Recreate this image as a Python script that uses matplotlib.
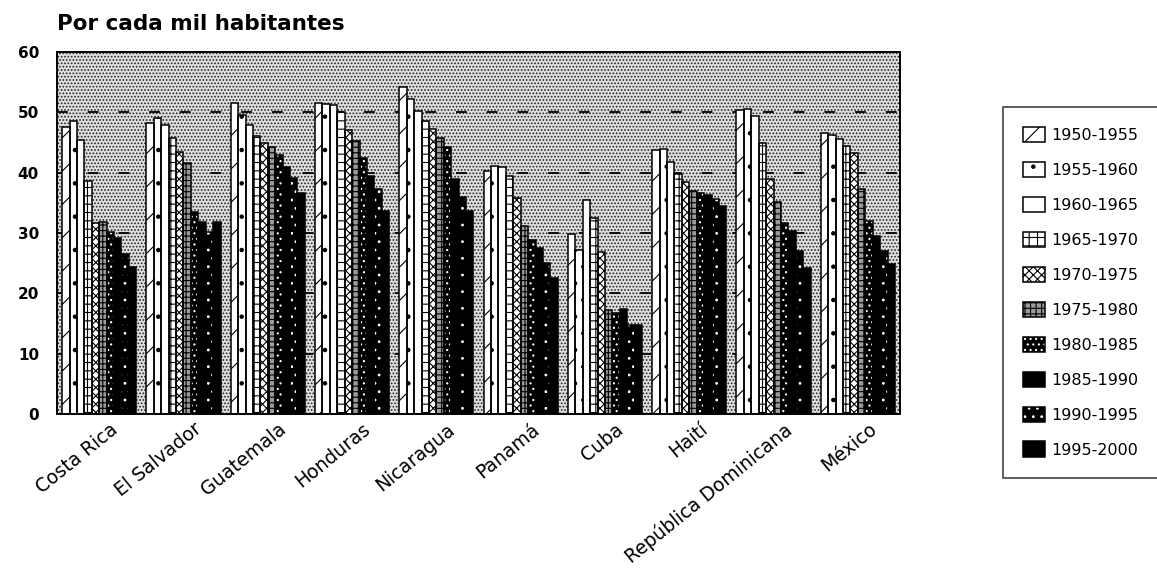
import matplotlib.pyplot as plt
import numpy as np
from matplotlib.patches import Rectangle
from matplotlib.legend_handler import HandlerTuple

plt.rcParams['font.family'] = ['DejaVu Sans']
plt.rcParams['hatch.linewidth'] = 0.8

paises = ['Costa Rica', 'El Salvador', 'Guatemala', 'Honduras', 'Nicaragua',
          'Panamá', 'Cuba', 'Haití', 'República Dominicana', 'México']
periodos = ['1950-1955', '1955-1960', '1960-1965', '1965-1970', '1970-1975',
            '1975-1980', '1980-1985', '1985-1990', '1990-1995', '1995-2000']

# tasas por cada mil habitantes, una lista por pais (10 periodos)
costa_rica = [47.6, 48.5, 45.4, 38.6, 31.6, 31.9, 30.2, 29.2, 26.6, 24.3]
el_salvador = [48.2, 49.0, 47.9, 45.7, 43.5, 41.6, 33.5, 31.9, 30.2, 31.9]
guatemala = [51.5, 49.6, 47.9, 46.0, 44.9, 44.3, 43.0, 41.0, 39.1, 36.6]
honduras = [51.5, 51.4, 51.2, 50.1, 47.1, 45.2, 42.5, 39.5, 37.3, 33.7]
nicaragua = [54.2, 52.2, 50.3, 48.5, 47.2, 45.7, 44.3, 38.9, 36.0, 33.7]
panama = [40.2, 41.1, 41.0, 39.5, 35.8, 31.1, 28.9, 27.5, 25.1, 22.6]
cuba = [29.9, 27.2, 35.4, 32.5, 26.9, 17.2, 16.7, 17.4, 14.8, 14.8]
haiti = [43.8, 43.9, 41.8, 39.8, 38.5, 36.9, 36.7, 36.3, 35.6, 34.4]
rep_dominicana = [50.4, 50.5, 49.4, 45.0, 38.9, 35.1, 31.6, 30.3, 27.1, 24.2]
mexico = [46.6, 46.3, 45.6, 44.4, 43.3, 37.3, 32.0, 29.5, 27.1, 24.9]

datos = np.array([costa_rica, el_salvador, guatemala, honduras, nicaragua,
                  panama, cuba, haiti, rep_dominicana, mexico])

# (relleno, color de la trama, trama)
estilos = [('white', 'black', '/'), ('white', 'black', '.'), ('white', 'black', ''),
           ('white', 'black', '++'), ('white', 'black', 'xxxx'), ('#9a9a9a', 'black', '+++'),
           ('black', 'white', '...'), ('black', 'white', ''), ('black', 'white', '..'),
           ('black', 'white', '')]

fig = plt.figure(figsize=(11.57, 5.86), dpi=100)
ax = fig.add_axes([0.0493, 0.2935, 0.7286, 0.6177])

# fondo punteado
ax.add_patch(Rectangle((0, 0), 1, 1, transform=ax.transAxes, facecolor='#dedede',
                       hatch='.....', edgecolor='#222222', lw=0, zorder=0))
for y in range(10, 60, 10):
    ax.plot([-0.5, 9.5], [y, y], color='black', lw=1.3, dashes=(6, 11), zorder=1)

x = np.arange(len(paises))
w = 0.088
handles = []
for j in range(len(periodos)):
    fc, hc, h = estilos[j]
    pos = x - 4.5 * w + j * w
    b1 = ax.bar(pos, datos[:, j], width=w, facecolor=fc, edgecolor=hc, hatch=h,
                lw=0, zorder=2)
    b2 = ax.bar(pos, datos[:, j], width=w, facecolor='none', edgecolor='black',
                lw=1.1, zorder=3)
    handles.append((b1.patches[0], b2.patches[0]))

ax.set_xlim(-0.5, len(paises) - 0.5)
ax.set_ylim(0, 60)
ax.set_yticks(range(0, 61, 10))
ax.tick_params(axis='y', length=0, labelsize=11, pad=13)
ax.tick_params(axis='x', length=0, labelsize=13.5, pad=4)
for lab in ax.get_yticklabels():
    lab.set_fontweight('bold')
ax.set_xticks(x + 0.12)
ax.set_xticklabels(paises, rotation=39, ha='right', rotation_mode='anchor')
for s in ax.spines.values():
    s.set_linewidth(1.4)

fig.text(57 / 1157, 1 - 30 / 586, 'Por cada mil habitantes', fontsize=15.5,
         fontweight='bold', va='baseline')

leg = fig.legend(handles, periodos, handler_map={tuple: HandlerTuple(ndivide=1)},
                 loc='upper left', bbox_to_anchor=(1003 / 1157, 1 - 107 / 586),
                 frameon=True, fancybox=False, edgecolor='black', fontsize=11.5,
                 handlelength=1.35, handleheight=1.1, labelspacing=1.18,
                 borderpad=1.25, handletextpad=0.45, borderaxespad=0)
leg.get_frame().set_linewidth(1.1)

fig.savefig('out.png', dpi=100)
